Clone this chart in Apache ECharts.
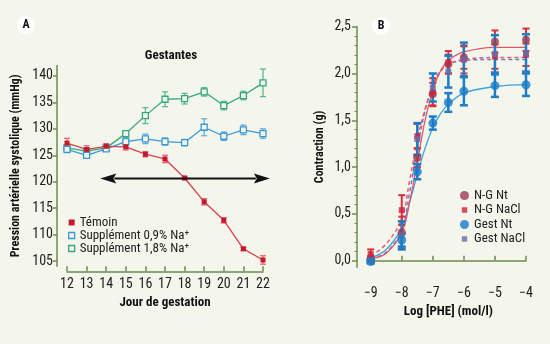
<!DOCTYPE html>
<html><head><meta charset="utf-8">
<script src="https://cdn.jsdelivr.net/npm/echarts@6/dist/echarts.min.js"></script>
<style>html,body{margin:0;padding:0;background:#f4f6eb}#c{width:550px;height:344px}</style>
</head><body><div id="c"></div>
<script>
// ---------- Panel A data ----------
const days = [12,13,14,15,16,17,18,19,20,21,22];
const temoin    = [127.3,126.1,126.7,126.6,125.2,124.3,120.7,116.2,112.7,107.3,105.2];
const temoinErr = [0.9,0.7,0.5,0.6,0.5,0.7,0.3,0.6,0.5,0.3,0.8];
const supp09    = [126.1,125.0,126.2,127.6,128.1,127.6,127.4,130.3,128.6,129.8,129.1];
const supp09Err = [0.6,0.4,0.4,0.8,0.9,0.7,0.6,1.6,0.8,0.9,0.9];
const supp18    = [126.4,125.8,126.4,129.1,132.5,135.6,135.7,137.0,134.4,136.3,138.7];
const supp18Err = [0.5,0.5,0.4,0.4,1.5,1.4,1.0,0.8,0.8,0.8,2.6];
const arrowLine = [[13.7,120.6],[22.35,120.6]];
const yTicksA = [105,110,115,120,125,130,135,140];

// ---------- Panel B data ----------
const logPhe = [-9,-8,-7.5,-7,-6.5,-6,-5,-4];
const ngNt      = [0.02,0.30,1.10,1.78,2.10,2.17,2.34,2.36];
const ngNtErr   = [0.03,0.17,0.10,0.12,0.10,0.12,0.12,0.12];
const ngNacl    = [0.07,0.54,1.33,1.80,2.12,2.15,2.18,2.20];
const ngNaclErr = [0.05,0.16,0.13,0.15,0.12,0.15,0.13,0.12];
const gestNt    = [-0.01,0.22,0.95,1.47,1.69,1.81,1.87,1.88];
const gestNtErr = [0.02,0.07,0.08,0.07,0.10,0.15,0.12,0.12];
const gestNacl  = [0.00,0.27,1.30,1.85,2.02,2.15,2.21,2.22];
const gestNaclErr=[0.02,0.15,0.17,0.15,0.17,0.18,0.20,0.20];
// fitted curves
const fitX        = [-9,-8.5,-8,-7.75,-7.5,-7.25,-7,-6.75,-6.5,-6,-5,-4];
const fitNgNt     = [0.02,0.08,0.30,0.62,1.05,1.50,1.82,2.03,2.14,2.23,2.28,2.28];
const fitNgNacl   = [0.05,0.18,0.45,0.85,1.28,1.62,1.85,2.02,2.10,2.15,2.17,2.17];
const fitGestNt   = [0.03,0.12,0.35,0.62,0.92,1.20,1.42,1.57,1.67,1.79,1.86,1.88];
const fitGestNacl = [0.02,0.09,0.33,0.72,1.20,1.60,1.88,2.03,2.10,2.14,2.15,2.15];
const yTicksB = [0,0.5,1,1.5,2,2.5];
const yMinorB = [0.1,0.2,0.3,0.4,0.6,0.7,0.8,0.9,1.1,1.2,1.3,1.4,1.6,1.7,1.8,1.9,2.1,2.2,2.3,2.4];

const FONT = "'Roboto Condensed','Liberation Sans',sans-serif";
const AX = '#6e8a52';
const BG = '#f4f6eb';
const SMALL_SQ = 'path://M0,0L0.01,0M10,10L10.01,10M2,2h6v6h-6z';

function pairs(xs, ys){ return xs.map((x,i)=>[x, ys[i]]); }
function errData(xs, ys, es){ return xs.map((x,i)=>[x, ys[i]-es[i], ys[i]+es[i]]); }
function errRender(color, cap, width){
  return function(params, api){
    const x = api.value(0), lo = api.value(1), hi = api.value(2);
    const p1 = api.coord([x, hi]), p2 = api.coord([x, lo]);
    const st = {stroke: color, lineWidth: width};
    return {type:'group', children:[
      {type:'line', shape:{x1:p1[0],y1:p1[1],x2:p2[0],y2:p2[1]}, style:st},
      {type:'line', shape:{x1:p1[0]-cap,y1:p1[1],x2:p1[0]+cap,y2:p1[1]}, style:st},
      {type:'line', shape:{x1:p2[0]-cap,y1:p2[1],x2:p2[0]+cap,y2:p2[1]}, style:st}
    ]};
  };
}
function errSeries(xi, yi, data, color, cap, width, z){
  return {type:'custom', xAxisIndex:xi, yAxisIndex:yi, data:data, encode:{x:0,y:[1,2]},
    renderItem: errRender(color, cap, width), z:z, silent:true, clip:false};
}
// double-headed arrow drawn through the axes
function arrowRender(params, api){
  if (params.dataIndex !== 0) return null;
  const a = api.coord(arrowLine[0]), b = api.coord(arrowLine[1]);
  const L = 16, H = 5;
  return {type:'group', children:[
    {type:'line', shape:{x1:a[0]+L-2, y1:a[1], x2:b[0]-L+2, y2:b[1]}, style:{stroke:'#111', lineWidth:2}},
    {type:'polygon', shape:{points:[[a[0],a[1]],[a[0]+L,a[1]-H],[a[0]+L-3,a[1]],[a[0]+L,a[1]+H]]}, style:{fill:'#111'}},
    {type:'polygon', shape:{points:[[b[0],b[1]],[b[0]-L,b[1]-H],[b[0]-L+3,b[1]],[b[0]-L,b[1]+H]]}, style:{fill:'#111'}}
  ]};
}

const chart = echarts.init(document.getElementById('c'), null, {renderer:'canvas'});
const lblStyle = {color:'#222', fontFamily:FONT, fontSize:14};
const nameStyle = {color:'#111', fontFamily:FONT, fontSize:13, fontWeight:'bold'};
const yNameStyle = {color:'#111', fontFamily:FONT, fontSize:12, fontWeight:'bold'};

const option = {
  backgroundColor: BG,
  animation:false,
  textStyle:{fontFamily:FONT},
  title:{text:'Gestantes', left:166, top:44, textAlign:'center',
    textStyle:{fontFamily:FONT, fontSize:13, fontWeight:'bold', color:'#111'}},
  grid:[
    {left:67, top:65.4, width:196, height:200.9},
    {left:370.7, top:26.7, width:155.3, height:240.5}
  ],
  xAxis:[
    {type:'value', gridIndex:0, min:12, max:22, interval:1, offset:5,
     axisLine:{lineStyle:{color:AX, width:1.5}}, axisTick:{inside:true, length:5, lineStyle:{color:AX, width:1.5}},
     axisLabel:Object.assign({margin:6}, lblStyle), splitLine:{show:false},
     name:'Jour de gestation', nameLocation:'middle', nameGap:25, nameTextStyle:nameStyle},
    {type:'value', gridIndex:1, min:-9, max:-4, interval:1, offset:15,
     axisLine:{lineStyle:{color:AX, width:1.5}}, axisTick:{inside:true, length:5, lineStyle:{color:AX, width:1.5}},
     axisLabel:Object.assign({margin:4, formatter:v=> (v<0?'\u2212':'')+Math.abs(v)}, lblStyle), splitLine:{show:false},
     name:'Log [PHE] (mol/l)', nameLocation:'middle', nameGap:21, nameTextStyle:nameStyle}
  ],
  yAxis:[
    {type:'value', gridIndex:0, min:104, max:142, offset:10,
     axisLine:{show:true, lineStyle:{color:AX, width:1.5}},
     axisTick:{show:true, length:4, customValues:yTicksA, lineStyle:{color:AX, width:1.5}},
     axisLabel:Object.assign({margin:4, customValues:yTicksA}, lblStyle), splitLine:{show:false},
     name:'Pression artérielle systolique (mmHg)', nameLocation:'middle', nameGap:35, nameTextStyle:yNameStyle},
    {type:'value', gridIndex:1, position:'left', min:-0.07, max:2.5, offset:13.7,
     axisLine:{show:true, lineStyle:{color:AX, width:1.5}},
     axisTick:{show:true, length:5, customValues:yTicksB, lineStyle:{color:AX, width:1.5}},
     axisLabel:Object.assign({margin:6, customValues:yTicksB, formatter:v=>v.toFixed(1).replace('.',',')}, lblStyle), splitLine:{show:false},
     name:'Contraction (g)', nameLocation:'middle', nameGap:31, nameTextStyle:yNameStyle},
    {type:'value', gridIndex:1, position:'left', min:-0.07, max:2.5, offset:13.7,
     axisLine:{show:false},
     axisTick:{show:true, length:2.5, customValues:yMinorB, lineStyle:{color:AX, width:1}},
     axisLabel:{show:false}, splitLine:{show:false}}
  ],
  legend:[
    {orient:'vertical', left:63, top:211, itemGap:0, itemWidth:6, itemHeight:6,
     textStyle:{fontFamily:FONT, fontSize:13, color:'#222'},
     data:[
       {name:'Témoin', icon:'rect', itemStyle:{color:'#c8182e', borderWidth:0}},
       {name:'Supplément 0,9% Na⁺', icon:'rect', itemStyle:{color:BG, borderColor:'#3a98d6', borderWidth:1.3}},
       {name:'Supplément 1,8% Na⁺', icon:'rect', itemStyle:{color:BG, borderColor:'#36a878', borderWidth:1.3}}
     ]},
    {orient:'vertical', left:455, top:184, itemGap:1.5, itemWidth:9, itemHeight:9,
     textStyle:{fontFamily:FONT, fontSize:13, color:'#222'},
     data:[
       {name:'N-G Nt', icon:'circle', itemStyle:{color:'#9c3a52'}},
       {name:'N-G NaCl', icon:SMALL_SQ, itemStyle:{color:'#d0203a'}},
       {name:'Gest Nt', icon:'circle', itemStyle:{color:'#1a7cc8'}},
       {name:'Gest NaCl', icon:SMALL_SQ, itemStyle:{color:'#6a6aaa'}}
     ]}
  ],
  graphic:[
    {type:'circle', shape:{cx:26, cy:25, r:9}, style:{fill:'#ffffff'}},
    {type:'text', x:26, y:25, style:{text:'A', fontFamily:FONT, fontSize:12, fontWeight:'bold', fill:'#111', align:'center', verticalAlign:'middle'}},
    {type:'circle', shape:{cx:381, cy:26, r:9}, style:{fill:'#ffffff'}},
    {type:'text', x:381, y:26, style:{text:'B', fontFamily:FONT, fontSize:12, fontWeight:'bold', fill:'#111', align:'center', verticalAlign:'middle'}}
  ],
  series:[
    // arrow
    {type:'custom', xAxisIndex:0, yAxisIndex:0, data:arrowLine, encode:{x:0,y:1}, renderItem:arrowRender, z:5, silent:true, clip:false},
    // Panel A error bars
    errSeries(0,0, errData(days, supp18, supp18Err), '#5cbb8e', 3, 1.3, 2),
    errSeries(0,0, errData(days, supp09, supp09Err), '#62aee0', 3, 1.3, 2),
    errSeries(0,0, errData(days, temoin, temoinErr), '#e36a78', 3, 1.3, 2),
    {type:'line', name:'Supplément 1,8% Na⁺', xAxisIndex:0, yAxisIndex:0, data:pairs(days, supp18), z:3,
     symbol:'rect', symbolSize:6, showAllSymbol:true, lineStyle:{color:'#36a878', width:1.3},
     itemStyle:{color:BG, borderColor:'#36a878', borderWidth:1.3}},
    {type:'line', name:'Supplément 0,9% Na⁺', xAxisIndex:0, yAxisIndex:0, data:pairs(days, supp09), z:3,
     symbol:'rect', symbolSize:6, showAllSymbol:true, lineStyle:{color:'#3a98d6', width:1.3},
     itemStyle:{color:BG, borderColor:'#3a98d6', borderWidth:1.3}},
    {type:'line', name:'Témoin', xAxisIndex:0, yAxisIndex:0, data:pairs(days, temoin), z:4,
     symbol:'rect', symbolSize:5, showAllSymbol:true, lineStyle:{color:'#d8404e', width:1.3},
     itemStyle:{color:'#c8182e'}},
    // Panel B fitted curves
    {type:'line', name:'fit Gest Nt', xAxisIndex:1, yAxisIndex:1, data:pairs(fitX, fitGestNt), smooth:0.4, symbol:'none', z:3,
     lineStyle:{color:'#3ea2e0', width:1.3}},
    {type:'line', name:'fit Gest NaCl', xAxisIndex:1, yAxisIndex:1, data:pairs(fitX, fitGestNacl), smooth:0.4, symbol:'none', z:3,
     lineStyle:{color:'#6e7cc4', width:1.5, type:[4,3]}},
    {type:'line', name:'fit N-G NaCl', xAxisIndex:1, yAxisIndex:1, data:pairs(fitX, fitNgNacl), smooth:0.4, symbol:'none', z:3,
     lineStyle:{color:'#e0606e', width:1.5, type:[4,3]}},
    {type:'line', name:'fit N-G Nt', xAxisIndex:1, yAxisIndex:1, data:pairs(fitX, fitNgNt), smooth:0.4, symbol:'none', z:3,
     lineStyle:{color:'#e05868', width:1.3}},
    // Panel B error bars
    errSeries(1,1, errData(logPhe, ngNt, ngNtErr), '#d8303e', 3.5, 2, 4),
    errSeries(1,1, errData(logPhe, ngNacl, ngNaclErr), '#d8303e', 3.5, 2, 4),
    errSeries(1,1, errData(logPhe, gestNacl, gestNaclErr), '#1f7cc6', 4, 2.5, 5),
    errSeries(1,1, errData(logPhe, gestNt, gestNtErr), '#1f7cc6', 4, 2.5, 5),
    // Panel B markers
    {type:'scatter', name:'N-G Nt', xAxisIndex:1, yAxisIndex:1, data:pairs(logPhe, ngNt), symbol:'circle', symbolSize:8, z:6,
     itemStyle:{color:'#9c3a52'}, clip:false},
    {type:'scatter', name:'N-G NaCl', xAxisIndex:1, yAxisIndex:1, data:pairs(logPhe, ngNacl), symbol:'rect', symbolSize:6, z:6,
     itemStyle:{color:'#d0203a'}, clip:false},
    {type:'scatter', name:'Gest NaCl', xAxisIndex:1, yAxisIndex:1, data:pairs(logPhe, gestNacl), symbol:'rect', symbolSize:6, z:6,
     itemStyle:{color:'#6a6aaa'}, clip:false},
    {type:'scatter', name:'Gest Nt', xAxisIndex:1, yAxisIndex:1, data:pairs(logPhe, gestNt), symbol:'circle', symbolSize:9, z:6,
     itemStyle:{color:'#1a7cc8'}, clip:false}
  ]
};
chart.setOption(option);
</script></body></html>
